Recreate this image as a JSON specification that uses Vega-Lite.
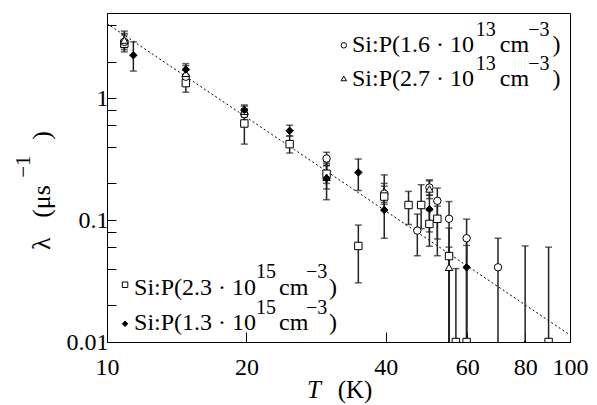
{
  "$schema": "https://vega.github.io/schema/vega-lite/v6.json",
  "width": 463,
  "height": 329,
  "autosize": "none",
  "padding": {"left": 107, "top": 13, "right": 27, "bottom": 63},
  "background": "white",
  "config": {
    "view": {"stroke": "black", "strokeWidth": 1},
    "axis": {
      "domainColor": "black", "tickColor": "black", "grid": false,
      "labelFont": "Liberation Serif", "labelFontSize": 24, "labelColor": "black",
      "titleFont": "Liberation Serif", "titleFontSize": 24, "titleFontWeight": "normal", "titleColor": "black"
    }
  },
  "datasets": {
    "pts": [
      {"T": 10.9, "lam": 2.8, "lo": 2.4, "hi": 3.3, "s": "sq"},
      {"T": 10.9, "lam": 2.9, "lo": 2.5, "hi": 3.4, "s": "c"},
      {"T": 10.9, "lam": 3.0, "lo": 2.6, "hi": 3.55, "s": "tr"},
      {"T": 11.4, "lam": 2.25, "lo": 1.67, "hi": 2.9, "s": "d"},
      {"T": 14.8, "lam": 1.33, "lo": 1.12, "hi": 1.5, "s": "sq"},
      {"T": 14.8, "lam": 1.5, "lo": 1.3, "hi": 1.7, "s": "c"},
      {"T": 14.8, "lam": 1.6, "lo": 1.4, "hi": 1.85, "s": "tr"},
      {"T": 14.8, "lam": 1.72, "lo": 1.5, "hi": 1.92, "s": "d"},
      {"T": 19.8, "lam": 0.62, "lo": 0.42, "hi": 0.72, "s": "sq"},
      {"T": 19.8, "lam": 0.74, "lo": 0.66, "hi": 0.82, "s": "c"},
      {"T": 19.8, "lam": 0.78, "lo": 0.7, "hi": 0.86, "s": "tr"},
      {"T": 19.8, "lam": 0.8, "lo": 0.72, "hi": 0.88, "s": "d"},
      {"T": 24.8, "lam": 0.42, "lo": 0.355, "hi": 0.49, "s": "sq"},
      {"T": 24.8, "lam": 0.54, "lo": 0.49, "hi": 0.6, "s": "d"},
      {"T": 29.8, "lam": 0.32, "lo": 0.28, "hi": 0.36, "s": "c"},
      {"T": 29.8, "lam": 0.24, "lo": 0.2, "hi": 0.29, "s": "sq"},
      {"T": 29.8, "lam": 0.225, "lo": 0.18, "hi": 0.28, "s": "tr"},
      {"T": 29.8, "lam": 0.22, "lo": 0.147, "hi": 0.3, "s": "d"},
      {"T": 34.9, "lam": 0.246, "lo": 0.175, "hi": 0.317, "s": "d"},
      {"T": 34.9, "lam": 0.0614, "lo": 0.0306, "hi": 0.091, "s": "sq"},
      {"T": 39.7, "lam": 0.172, "lo": 0.14, "hi": 0.235, "s": "tr"},
      {"T": 39.7, "lam": 0.165, "lo": 0.135, "hi": 0.2, "s": "c"},
      {"T": 39.7, "lam": 0.156, "lo": 0.12, "hi": 0.19, "s": "sq"},
      {"T": 39.7, "lam": 0.121, "lo": 0.071, "hi": 0.17, "s": "d"},
      {"T": 44.8, "lam": 0.133, "lo": 0.092, "hi": 0.172, "s": "sq"},
      {"T": 46.8, "lam": 0.082, "lo": 0.051, "hi": 0.112, "s": "c"},
      {"T": 47.7, "lam": 0.133, "lo": 0.085, "hi": 0.195, "s": "sq"},
      {"T": 49.7, "lam": 0.093, "lo": 0.061, "hi": 0.12, "s": "sq"},
      {"T": 49.7, "lam": 0.123, "lo": 0.08, "hi": 0.16, "s": "d"},
      {"T": 49.7, "lam": 0.185, "lo": 0.16, "hi": 0.21, "s": "c"},
      {"T": 49.7, "lam": 0.18, "lo": 0.15, "hi": 0.214, "s": "tr"},
      {"T": 51.7, "lam": 0.1025, "lo": 0.07, "hi": 0.13, "s": "sq"},
      {"T": 51.7, "lam": 0.144, "lo": 0.051, "hi": 0.183, "s": "c"},
      {"T": 54.8, "lam": 0.1025, "lo": 0.01, "hi": 0.142, "s": "c"},
      {"T": 54.8, "lam": 0.0507, "lo": 0.01, "hi": 0.086, "s": "sq"},
      {"T": 54.8, "lam": 0.041, "lo": 0.01, "hi": 0.06, "s": "tr"},
      {"T": 56.7, "lam": 0.01, "lo": 0.01, "hi": 0.04, "s": "sq"},
      {"T": 59.8, "lam": 0.071, "lo": 0.01, "hi": 0.1018, "s": "c"},
      {"T": 59.8, "lam": 0.041, "lo": 0.01, "hi": 0.062, "s": "d"},
      {"T": 59.8, "lam": 0.01, "lo": 0.01, "hi": 0.071, "s": "sq"},
      {"T": 69.9, "lam": 0.041, "lo": 0.01, "hi": 0.071, "s": "c"},
      {"T": 80, "lam": 0.0095, "lo": 0.01, "hi": 0.0614, "s": "d"},
      {"T": 89.9, "lam": 0.01, "lo": 0.01, "hi": 0.06, "s": "sq"}
    ],
    "fit": [
      {"T": 10, "lam": 4.1},
      {"T": 100, "lam": 0.0114}
    ],
    "legsym": [
      {"T": 32.47, "lam": 2.716, "s": "c"},
      {"T": 32.47, "lam": 1.453, "s": "tr"},
      {"T": 10.94, "lam": 0.0295, "s": "sq"},
      {"T": 10.94, "lam": 0.0141, "s": "d"}
    ],
    "legtxt": [
      {"T": 33.81, "lam": 2.377, "k": "main", "txt": "Si:P(1.6 · 10"},
      {"T": 62.6, "lam": 3.22, "k": "sup", "txt": "13"},
      {"T": 70.52, "lam": 2.377, "k": "main", "txt": "cm"},
      {"T": 81.24, "lam": 3.22, "k": "sup", "txt": "−3"},
      {"T": 91.62, "lam": 2.377, "k": "main", "txt": ")"},
      {"T": 33.81, "lam": 1.248, "k": "main", "txt": "Si:P(2.7 · 10"},
      {"T": 62.6, "lam": 1.69, "k": "sup", "txt": "13"},
      {"T": 70.52, "lam": 1.248, "k": "main", "txt": "cm"},
      {"T": 81.24, "lam": 1.69, "k": "sup", "txt": "−3"},
      {"T": 91.62, "lam": 1.248, "k": "main", "txt": ")"},
      {"T": 11.44, "lam": 0.0245, "k": "main", "txt": "Si:P(2.3 · 10"},
      {"T": 20.98, "lam": 0.0332, "k": "sup", "txt": "15"},
      {"T": 23.52, "lam": 0.0245, "k": "main", "txt": "cm"},
      {"T": 26.9, "lam": 0.0332, "k": "sup", "txt": "−3"},
      {"T": 30.16, "lam": 0.0245, "k": "main", "txt": ")"},
      {"T": 11.44, "lam": 0.0126, "k": "main", "txt": "Si:P(1.3 · 10"},
      {"T": 20.98, "lam": 0.0171, "k": "sup", "txt": "15"},
      {"T": 23.52, "lam": 0.0126, "k": "main", "txt": "cm"},
      {"T": 26.9, "lam": 0.0171, "k": "sup", "txt": "−3"},
      {"T": 30.16, "lam": 0.0126, "k": "main", "txt": ")"}
    ],
    "xtitle": [
      {"T": 27.04, "lam": 0.00344, "k": "it", "txt": "T"},
      {"T": 31.5, "lam": 0.00344, "k": "main", "txt": "(K)"}
    ],
    "ytitle": [
      {"T": 7.53, "lam": 0.0568, "k": "main", "txt": "λ"},
      {"T": 7.53, "lam": 0.1043, "k": "main", "txt": "(μs"},
      {"T": 6.82, "lam": 0.2225, "k": "sup", "txt": "−1"},
      {"T": 7.53, "lam": 0.457, "k": "main", "txt": ")"}
    ]
  },
  "layer": [
    {
      "data": {"name": "fit"},
      "mark": {"type": "line", "color": "black", "strokeWidth": 1, "strokeDash": [2, 2.5]},
      "encoding": {
        "x": {"field": "T", "type": "quantitative", "scale": {"type": "log", "domain": [10, 100], "nice": false},
          "axis": {"values": [10, 20, 40, 60, 80, 100], "format": "~g", "tickSize": -10, "labelPadding": 23,
            "labelFont": "Liberation Serif", "labelFontSize": 24, "labelOverlap": false, "labelFlush": false, "labelBound": false,
            "title": null}},
        "y": {"field": "lam", "type": "quantitative", "scale": {"type": "log", "domain": [0.01, 5], "nice": false},
          "axis": {"values": [0.01, 0.02, 0.04, 0.06, 0.08, 0.1, 0.2, 0.4, 0.6, 0.8, 1, 2, 4],
            "labelExpr": "datum.value == 0.01 ? '0.01' : datum.value == 0.1 ? '0.1' : datum.value == 1 ? '1' : ''",
            "labelFont": "Liberation Serif", "labelFontSize": 24, "labelOverlap": false, "labelFlush": false,
            "tickSize": -9, "labelPadding": 8, "title": null}}
      }
    },
    {
      "data": {"name": "pts"},
      "mark": {"type": "rule", "color": "#222", "strokeWidth": 1.5, "clip": true},
      "encoding": {
        "x": {"field": "T", "type": "quantitative"},
        "y": {"field": "lo", "type": "quantitative"},
        "y2": {"field": "hi"}
      }
    },
    {
      "data": {"name": "pts"},
      "mark": {"type": "tick", "orient": "horizontal", "color": "#222", "size": 7, "thickness": 1.5},
      "encoding": {
        "x": {"field": "T", "type": "quantitative"},
        "y": {"field": "hi", "type": "quantitative"}
      }
    },
    {
      "data": {"name": "pts"},
      "transform": [{"filter": "datum.lo > 0.0101"}],
      "mark": {"type": "tick", "orient": "horizontal", "color": "#222", "size": 7, "thickness": 1.5},
      "encoding": {
        "x": {"field": "T", "type": "quantitative"},
        "y": {"field": "lo", "type": "quantitative"}
      }
    },
    {
      "data": {"name": "pts"},
      "mark": {"type": "point", "filled": true, "stroke": "black", "strokeWidth": 1, "opacity": 1, "size": 55, "clip": true},
      "encoding": {
        "x": {"field": "T", "type": "quantitative"},
        "y": {"field": "lam", "type": "quantitative"},
        "shape": {"field": "s", "type": "nominal", "scale": {"domain": ["c", "tr", "sq", "d"], "range": ["circle", "triangle-up", "square", "diamond"]}, "legend": null},
        "fill": {"field": "s", "type": "nominal", "scale": {"domain": ["c", "tr", "sq", "d"], "range": ["white", "white", "white", "black"]}, "legend": null}
      }
    },
    {
      "data": {"name": "legsym"},
      "mark": {"type": "point", "filled": true, "stroke": "black", "strokeWidth": 1, "opacity": 1, "size": 30},
      "encoding": {
        "x": {"field": "T", "type": "quantitative"},
        "y": {"field": "lam", "type": "quantitative"},
        "shape": {"field": "s", "type": "nominal", "legend": null},
        "fill": {"field": "s", "type": "nominal", "legend": null}
      }
    },
    {
      "data": {"name": "legtxt"},
      "transform": [{"filter": "datum.k == 'main'"}],
      "mark": {"type": "text", "font": "Liberation Serif", "fontSize": 24, "align": "left", "baseline": "alphabetic", "color": "black"},
      "encoding": {
        "x": {"field": "T", "type": "quantitative"},
        "y": {"field": "lam", "type": "quantitative"},
        "text": {"field": "txt"}
      }
    },
    {
      "data": {"name": "legtxt"},
      "transform": [{"filter": "datum.k == 'sup'"}],
      "mark": {"type": "text", "font": "Liberation Serif", "fontSize": 20, "align": "left", "baseline": "alphabetic", "color": "black"},
      "encoding": {
        "x": {"field": "T", "type": "quantitative"},
        "y": {"field": "lam", "type": "quantitative"},
        "text": {"field": "txt"}
      }
    },
    {
      "data": {"name": "xtitle"},
      "transform": [{"filter": "datum.k == 'it'"}],
      "mark": {"type": "text", "font": "Liberation Serif", "fontSize": 25, "fontStyle": "italic", "align": "left", "baseline": "alphabetic", "color": "black"},
      "encoding": {
        "x": {"field": "T", "type": "quantitative"},
        "y": {"field": "lam", "type": "quantitative"},
        "text": {"field": "txt"}
      }
    },
    {
      "data": {"name": "xtitle"},
      "transform": [{"filter": "datum.k == 'main'"}],
      "mark": {"type": "text", "font": "Liberation Serif", "fontSize": 25, "align": "left", "baseline": "alphabetic", "color": "black"},
      "encoding": {
        "x": {"field": "T", "type": "quantitative"},
        "y": {"field": "lam", "type": "quantitative"},
        "text": {"field": "txt"}
      }
    },
    {
      "data": {"name": "ytitle"},
      "transform": [{"filter": "datum.k == 'main'"}],
      "mark": {"type": "text", "font": "Liberation Serif", "fontSize": 26, "angle": 270, "align": "left", "baseline": "alphabetic", "color": "black"},
      "encoding": {
        "x": {"field": "T", "type": "quantitative"},
        "y": {"field": "lam", "type": "quantitative"},
        "text": {"field": "txt"}
      }
    },
    {
      "data": {"name": "ytitle"},
      "transform": [{"filter": "datum.k == 'sup'"}],
      "mark": {"type": "text", "font": "Liberation Serif", "fontSize": 21, "angle": 270, "align": "left", "baseline": "alphabetic", "color": "black"},
      "encoding": {
        "x": {"field": "T", "type": "quantitative"},
        "y": {"field": "lam", "type": "quantitative"},
        "text": {"field": "txt"}
      }
    }
  ]
}
